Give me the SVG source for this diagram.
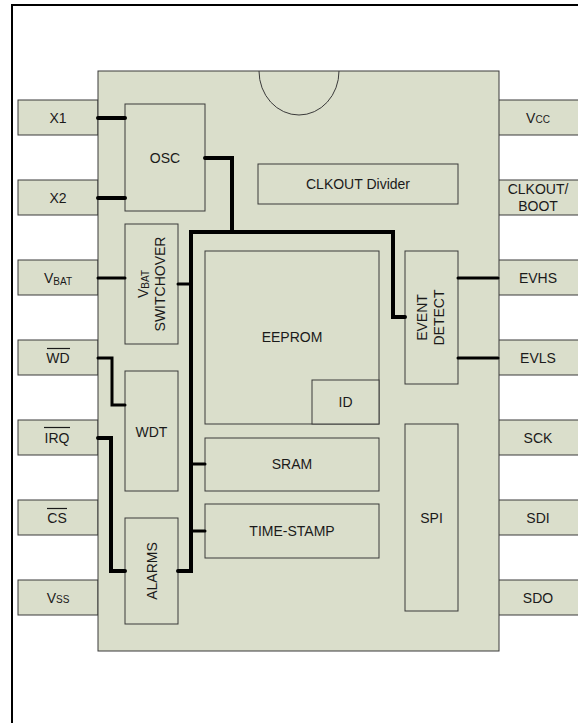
<svg xmlns="http://www.w3.org/2000/svg" width="578" height="723" viewBox="0 0 578 723">
<style>
.blk{fill:#dadecb;stroke:#3a3a3a;stroke-width:1}
.t{font-family:"Liberation Sans",Arial,sans-serif;font-size:14px;fill:#1a1a1a;text-anchor:middle}
.s{font-size:10px}
.w4{fill:none;stroke:#000;stroke-width:4;stroke-linecap:round;stroke-linejoin:miter}
.w3{fill:none;stroke:#000;stroke-width:3;stroke-linecap:round;stroke-linejoin:miter}
.ov{stroke:#1a1a1a;stroke-width:1.2}
</style>
<rect x="12" y="5" width="580" height="730" fill="#fff" stroke="#000" stroke-width="2"/>
<g id="pins">
<g id="pin-X1"><rect class="blk" x="18" y="100" width="80" height="35"/><text class="t" x="58" y="123">X1</text></g>
<g id="pin-X2"><rect class="blk" x="18" y="180" width="80" height="35"/><text class="t" x="58" y="203">X2</text></g>
<g id="pin-VBAT"><rect class="blk" x="18" y="260" width="80" height="35"/><text class="t" x="58" y="283">V<tspan class="s" dy="2">BAT</tspan></text></g>
<g id="pin-WD"><rect class="blk" x="18" y="340" width="80" height="35"/><text class="t" x="58" y="363">WD</text><line class="ov" x1="47" y1="348.5" x2="70" y2="348.5"/></g>
<g id="pin-IRQ"><rect class="blk" x="18" y="420" width="80" height="35"/><text class="t" x="57" y="443">IRQ</text><line class="ov" x1="44" y1="427.5" x2="70" y2="427.5"/></g>
<g id="pin-CS"><rect class="blk" x="18" y="500" width="80" height="35"/><text class="t" x="57" y="523">CS</text><line class="ov" x1="47" y1="508.5" x2="67" y2="508.5"/></g>
<g id="pin-VSS"><rect class="blk" x="18" y="580" width="80" height="35"/><text class="t" x="58" y="603">V<tspan class="s">SS</tspan></text></g>
<g id="pin-VCC"><rect class="blk" x="498" y="100" width="90" height="35"/><text class="t" x="538" y="123">V<tspan class="s">CC</tspan></text></g>
<g id="pin-CLKOUT"><rect class="blk" x="498" y="180" width="90" height="35"/><text class="t" x="538" y="194">CLKOUT/</text><text class="t" x="538" y="211">BOOT</text></g>
<g id="pin-EVHS"><rect class="blk" x="498" y="260" width="90" height="35"/><text class="t" x="538" y="283">EVHS</text></g>
<g id="pin-EVLS"><rect class="blk" x="498" y="340" width="90" height="35"/><text class="t" x="538" y="363">EVLS</text></g>
<g id="pin-SCK"><rect class="blk" x="498" y="420" width="90" height="35"/><text class="t" x="538" y="443">SCK</text></g>
<g id="pin-SDI"><rect class="blk" x="498" y="500" width="90" height="35"/><text class="t" x="538" y="523">SDI</text></g>
<g id="pin-SDO"><rect class="blk" x="498" y="580" width="90" height="35"/><text class="t" x="538" y="603">SDO</text></g>
</g>
<g id="package">
<rect class="blk" x="98" y="71" width="401" height="580"/>
<path d="M259,71 A40,44 0 0 0 339,71" fill="none" stroke="#3a3a3a" stroke-width="1"/>
</g>
<g id="osc"><rect class="blk" x="125" y="104" width="80" height="107"/><text class="t" x="165" y="163">OSC</text></g>
<g id="clkout-divider"><rect class="blk" x="258" y="164" width="200" height="40"/><text class="t" x="358" y="189">CLKOUT Divider</text></g>
<g id="vbat-switchover"><rect class="blk" x="125" y="224" width="53" height="120"/>
<g transform="translate(151.5,284) rotate(-90)"><text class="t" x="0" y="-4">V<tspan class="s" dy="1">BAT</tspan></text><text class="t" x="0" y="13">SWITCHOVER</text></g></g>
<g id="wdt"><rect class="blk" x="125" y="371" width="53" height="120"/><text class="t" x="151.5" y="437">WDT</text></g>
<g id="alarms"><rect class="blk" x="125" y="518" width="53" height="106"/><g transform="translate(151.5,571) rotate(-90)"><text class="t" x="0" y="5">ALARMS</text></g></g>
<g id="eeprom"><rect class="blk" x="205" y="251" width="174" height="173"/><text class="t" x="292" y="342">EEPROM</text></g>
<g id="id"><rect class="blk" x="312" y="380" width="67" height="44"/><text class="t" x="345.5" y="407">ID</text></g>
<g id="sram"><rect class="blk" x="205" y="438" width="174" height="53"/><text class="t" x="292" y="469">SRAM</text></g>
<g id="time-stamp"><rect class="blk" x="205" y="504" width="174" height="54"/><text class="t" x="292" y="536">TIME-STAMP</text></g>
<g id="event-detect"><rect class="blk" x="405" y="251" width="53" height="133"/><g transform="translate(431.5,317.5) rotate(-90)"><text class="t" x="0" y="-4.5">EVENT</text><text class="t" x="0" y="12.5">DETECT</text></g></g>
<g id="spi"><rect class="blk" x="405" y="424" width="53" height="187"/><text class="t" x="431.5" y="523">SPI</text></g>
<g id="connectors">
<line class="w4" x1="98" y1="118" x2="125" y2="118"/>
<line class="w4" x1="98" y1="198" x2="125" y2="198"/>
<line class="w3" x1="98" y1="278" x2="125" y2="278"/>
<polyline class="w4" points="205,158 232,158 232,232"/>
<polyline class="w4" points="178,571 191,571 191,232 393,232 393,317 405,317"/>
<line class="w3" x1="178" y1="284" x2="191" y2="284"/>
<line class="w3" x1="191" y1="464" x2="205" y2="464"/>
<line class="w3" x1="191" y1="531" x2="205" y2="531"/>
<polyline class="w3" points="98,358 112,358 112,405 125,405"/>
<polyline class="w4" points="98,438 111,438 111,571 125,571"/>
<line class="w3" x1="458" y1="278" x2="498" y2="278"/>
<line class="w3" x1="458" y1="358" x2="498" y2="358"/>
</g>
</svg>
